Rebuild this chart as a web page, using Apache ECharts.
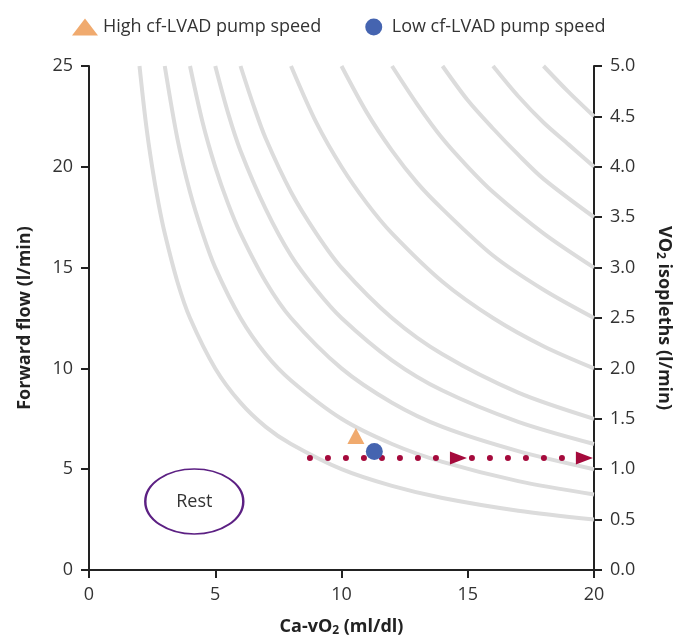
<!DOCTYPE html>
<html>
<head>
<meta charset="utf-8">
<script src="https://cdn.jsdelivr.net/npm/echarts@6/dist/echarts.min.js"></script>
<style>html,body{margin:0;padding:0;background:#fff}#main{width:690px;height:639px}</style>
</head>
<body>
<div id="main"></div>
<script>
// VO2 isopleths (l/min), points as [Ca-vO2, flow]
var isoLevels = [0.5, 0.75, 1.0, 1.25, 1.5, 2.0, 2.5, 3.0, 3.5, 4.0, 4.5];
var isoCurves = [
    [[2, 25], [2.25, 22.2], [2.5, 20], [2.75, 18.2], [3, 16.7], [3.5, 14.3], [4, 12.5], [5, 10], [6, 8.3], [7, 7.1], [8, 6.25], [10, 5], [12, 4.17], [14, 3.57], [17, 2.94], [20, 2.5]],
    [[3, 25], [3.5, 21.4], [4, 18.75], [4.5, 16.7], [5, 15], [6, 12.5], [7, 10.7], [8, 9.4], [10, 7.5], [12, 6.25], [14, 5.36], [17, 4.41], [20, 3.75]],
    [[4, 25], [4.5, 22.2], [5, 20], [5.5, 18.2], [6, 16.7], [7, 14.3], [8, 12.5], [10, 10], [12, 8.3], [14, 7.1], [17, 5.9], [20, 5]],
    [[5, 25], [5.5, 22.7], [6, 20.8], [7, 17.9], [8, 15.6], [9, 13.9], [10, 12.5], [12, 10.4], [14, 8.9], [17, 7.35], [20, 6.25]],
    [[6, 25], [6.5, 23.1], [7, 21.4], [8, 18.75], [9, 16.7], [10, 15], [12, 12.5], [14, 10.7], [17, 8.8], [20, 7.5]],
    [[8, 25], [9, 22.2], [10, 20], [11, 18.2], [12, 16.7], [14, 14.3], [16, 12.5], [18, 11.1], [20, 10]],
    [[10, 25], [11, 22.7], [12, 20.8], [13, 19.2], [14, 17.9], [16, 15.6], [18, 13.9], [20, 12.5]],
    [[12, 25], [13, 23.1], [14, 21.4], [15, 20], [16, 18.75], [18, 16.7], [20, 15]],
    [[14, 25], [15, 23.3], [16, 21.9], [17, 20.6], [18, 19.4], [20, 17.5]],
    [[16, 25], [17, 23.5], [18, 22.2], [19, 21.1], [20, 20]],
    [[18, 25], [19, 23.7], [20, 22.5]]
];
var highSpeed = [[10.57, 6.65]];
var lowSpeed = [[11.3, 5.88]];
var exerciseLine = [[8.75, 5.55], [20, 5.55]];
var arrows = [[14.63, 5.55], [19.62, 5.55]];
var rest = [[4.17, 3.4]];

var xTicks = [0, 5, 10, 15, 20];
var flowTicks = [0, 5, 10, 15, 20, 25];
var vo2Ticks = [0, 0.5, 1.0, 1.5, 2.0, 2.5, 3.0, 3.5, 4.0, 4.5, 5.0];

var font = 'Open Sans';
var axisColor = '#222';

var myChart = echarts.init(document.getElementById('main'));

var series = [];
isoCurves.forEach(function (pts, i) {
    series.push({
        name: 'VO2 ' + isoLevels[i],
        type: 'line',
        data: pts,
        smooth: 0.3,
        symbol: 'none',
        silent: true,
        z: 1,
        lineStyle: {color: '#dcdcdc', width: 4}
    });
});
series.push({
    name: 'exercise',
    type: 'line',
    data: exerciseLine,
    symbol: 'none',
    z: 2,
    lineStyle: {color: '#a50a3c', width: 6, type: [0, 18], cap: 'round'}
});
series.push({
    name: 'arrows',
    type: 'scatter',
    data: arrows,
    symbol: 'triangle',
    symbolRotate: -90,
    symbolSize: [13, 17],
    z: 3,
    itemStyle: {color: '#a50a3c', opacity: 1}
});
series.push({
    name: 'Rest',
    type: 'scatter',
    data: rest,
    symbol: 'circle',
    symbolSize: [98, 65],
    z: 3,
    itemStyle: {color: 'rgba(0,0,0,0)', borderColor: '#5c2083', borderWidth: 2, opacity: 1},
    label: {show: true, position: 'inside', formatter: 'Rest', color: '#333', fontSize: 18, fontFamily: font}
});
series.push({
    name: 'High cf-LVAD pump speed',
    type: 'scatter',
    data: highSpeed,
    symbol: 'triangle',
    symbolSize: [17, 16],
    z: 4,
    itemStyle: {color: '#f0aa6e', opacity: 1}
});
series.push({
    name: 'Low cf-LVAD pump speed',
    type: 'scatter',
    data: lowSpeed,
    symbol: 'circle',
    symbolSize: 17,
    z: 4,
    itemStyle: {color: '#4564b0', opacity: 1}
});

var axisCommon = {
    axisLine: {show: true, lineStyle: {color: axisColor, width: 2}},
    axisTick: {show: true, length: 8, lineStyle: {color: axisColor, width: 2}},
    axisLabel: {color: '#333', fontSize: 18, fontFamily: font, margin: 16},
    splitLine: {show: false},
    nameLocation: 'middle',
    nameTextStyle: {
        color: '#222', fontSize: 18, fontWeight: 'bold', fontFamily: font,
        rich: {sub: {fontSize: 12, fontWeight: 'bold', fontFamily: font, color: '#222', padding: [9, 0, 0, 0]}}
    }
};

var option = {
    animation: false,
    grid: {left: 89, right: 96, top: 66, bottom: 69, outerBoundsMode: 'none', containLabel: false},
    legend: {
        data: [
            {name: 'High cf-LVAD pump speed', icon: 'triangle'},
            {name: 'Low cf-LVAD pump speed', icon: 'circle'}
        ],
        top: 13,
        left: 67,
        itemWidth: 26,
        itemHeight: 17,
        itemGap: 44,
        textStyle: {color: '#333', fontSize: 18, fontFamily: font}
    },
    xAxis: Object.assign({}, axisCommon, {
        type: 'value',
        min: xTicks[0], max: xTicks[xTicks.length - 1], interval: 5,
        name: 'Ca-vO{sub|2} (ml/dl)',
        nameGap: 46
    }),
    yAxis: [
        Object.assign({}, axisCommon, {
            type: 'value',
            min: flowTicks[0], max: flowTicks[flowTicks.length - 1], interval: 5,
            name: 'Forward flow (l/min)',
            nameGap: 55
        }),
        Object.assign({}, axisCommon, {
            type: 'value',
            position: 'right',
            min: vo2Ticks[0], max: vo2Ticks[vo2Ticks.length - 1], interval: 0.5,
            name: 'VO{sub|2} isopleths (l/min)',
            nameRotate: -90,
            nameGap: 60,
            axisLabel: Object.assign({}, axisCommon.axisLabel, {
                formatter: function (v) { return v.toFixed(1); }
            })
        })
    ],
    series: series
};
myChart.setOption(option);
</script>
</body>
</html>
